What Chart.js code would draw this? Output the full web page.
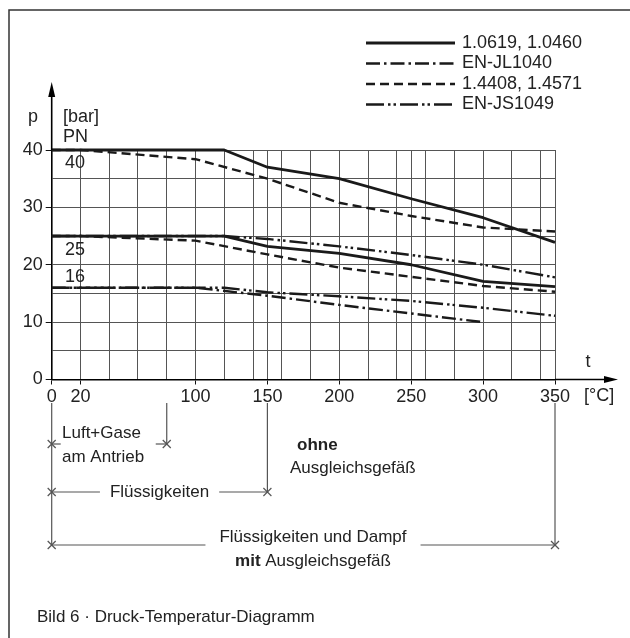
<!DOCTYPE html>
<html><head><meta charset="utf-8">
<script src="https://cdn.jsdelivr.net/npm/chart.js@4.4.1/dist/chart.umd.min.js"></script>
<style>html,body{margin:0;padding:0;background:#fff}#wrap{width:630px;height:638px;position:relative}</style>
</head><body><div id="wrap"><canvas id="c" width="630" height="638"></canvas></div>
<script>
const FONT = '"Liberation Sans", Arial, sans-serif';

// ---- data ----
const seriesNames = ['1.0619, 1.0460', 'EN-JL1040', '1.4408, 1.4571', 'EN-JS1049'];

const tSolid40 = [0, 120, 150, 200, 250, 300, 350];
const pSolid40 = [40, 40, 37, 35, 31.5, 28.2, 23.9];
const tSolid25 = [0, 120, 150, 200, 250, 300, 350];
const pSolid25 = [25, 25, 23.2, 22, 20, 17.1, 16.2];

const tJL16 = [0, 100, 150, 200, 250, 300];
const pJL16 = [16, 16, 14.6, 13, 11.5, 10];

const tDash40 = [0, 20, 100, 150, 200, 250, 300, 350];
const pDash40 = [40, 40, 38.4, 35, 30.8, 28.5, 26.5, 25.8];
const tDash25 = [0, 20, 100, 150, 200, 250, 300, 350];
const pDash25 = [25, 25, 24.2, 21.8, 19.5, 17.9, 16.3, 15.3];

const tJS25 = [0, 120, 150, 200, 250, 300, 350];
const pJS25 = [25, 25, 24.5, 23.2, 21.7, 20, 17.8];
const tJS16 = [0, 120, 150, 200, 250, 300, 350];
const pJS16 = [16, 16, 15.2, 14.5, 13.7, 12.5, 11.1];

const xGridValues = [0, 20, 40, 60, 80, 100, 120, 140, 150, 160, 180, 200, 220, 240, 250, 260, 280, 300, 320, 340, 350];
const xTickLabels = [0, 20, 100, 150, 200, 250, 300, 350];
const yGridValues = [0, 5, 10, 15, 20, 25, 30, 35, 40];
const yTickLabels = [0, 10, 20, 30, 40];
const pnClasses = [40, 25, 16];

const captionText = 'Bild 6 · Druck-Temperatur-Diagramm';

// ---- styles ----
const dashStyles = [[], [14, 4, 2.5, 4], [9, 5], [18, 4, 2.5, 3, 2.5, 4]];
const lineWidths = [2.8, 2.4, 2.4, 2.4];
const INK = '#1a1a1a';

function pts(t, p) { return t.map((v, i) => ({ x: v, y: p[i] })); }
function ds(t, p, s) {
  return { data: pts(t, p), borderColor: INK, borderWidth: lineWidths[s], borderDash: dashStyles[s],
           pointRadius: 0, tension: 0, fill: false, clip: false, borderCapStyle: 'butt', borderJoinStyle: 'round' };
}

const decor = {
  id: 'decor',
  afterDraw(chart) {
    const ctx = chart.ctx, xs = chart.scales.x, ys = chart.scales.y;
    const X = v => xs.getPixelForValue(v), Y = v => ys.getPixelForValue(v);
    ctx.save();
    // frame
    ctx.strokeStyle = '#333'; ctx.lineWidth = 1.5;
    ctx.beginPath(); ctx.moveTo(9, 638); ctx.lineTo(9, 10); ctx.lineTo(630, 10); ctx.stroke();

    // axis extensions + arrows
    ctx.strokeStyle = '#000'; ctx.fillStyle = '#000'; ctx.lineWidth = 1.6;
    ctx.beginPath(); ctx.moveTo(X(350), Y(0)); ctx.lineTo(612, Y(0)); ctx.stroke();
    ctx.beginPath(); ctx.moveTo(618, Y(0)); ctx.lineTo(604, Y(0) - 3.5); ctx.lineTo(604, Y(0) + 3.5); ctx.closePath(); ctx.fill();
    ctx.beginPath(); ctx.moveTo(X(0), Y(40)); ctx.lineTo(X(0), 92); ctx.stroke();
    ctx.beginPath(); ctx.moveTo(X(0), 82); ctx.lineTo(X(0) - 3.5, 97); ctx.lineTo(X(0) + 3.5, 97); ctx.closePath(); ctx.fill();

    // axis texts
    ctx.fillStyle = '#222'; ctx.textBaseline = 'middle';
    ctx.font = '18px ' + FONT;
    ctx.textAlign = 'center';
    ctx.fillText('p', 33, 117);
    ctx.fillText('t', 588, 362);
    ctx.textAlign = 'left';
    ctx.fillText('[bar]', 63, 117);
    ctx.fillText('PN', 63, 137);
    ctx.fillText('[°C]', 584, 396);
    // PN class labels
    const pnOff = [13, 14, -11];
    pnClasses.forEach((v, i) => { ctx.fillText(String(v), 65, Y(v) + pnOff[i]); });

    // legend
    const lx0 = 366, lx1 = 455, ly0 = 43, ldy = 20.5;
    seriesNames.forEach((name, i) => {
      const y = ly0 + i * ldy;
      ctx.save();
      ctx.strokeStyle = INK; ctx.lineWidth = lineWidths[i]; ctx.setLineDash(dashStyles[i]);
      ctx.beginPath(); ctx.moveTo(lx0, y); ctx.lineTo(lx1, y); ctx.stroke();
      ctx.restore();
      ctx.fillStyle = '#222'; ctx.font = '18px ' + FONT; ctx.textAlign = 'left';
      ctx.fillText(name, 462, y);
    });

    // range annotations below the axis
    ctx.strokeStyle = '#555'; ctx.lineWidth = 1.2; ctx.setLineDash([]);
    const line = (x1, y1, x2, y2) => { ctx.beginPath(); ctx.moveTo(x1, y1); ctx.lineTo(x2, y2); ctx.stroke(); };
    const cross = (x, y) => { line(x - 4, y - 4, x + 4, y + 4); line(x - 4, y + 4, x + 4, y - 4); };
    const top = 403;
    line(X(0), top, X(0), 546);
    line(X(80), top, X(80), 444);
    line(X(150), top, X(150), 493);
    line(X(350), top, X(350), 546);

    ctx.font = '17px ' + FONT; ctx.fillStyle = '#222';
    // Luft+Gase
    const yL = 444;
    line(X(0), yL, X(0) + 9, yL); cross(X(0), yL);
    line(X(80) - 11, yL, X(80), yL); cross(X(80), yL);
    ctx.textAlign = 'left';
    ctx.fillText('Luft+Gase', 62, 433);
    ctx.fillText('am Antrieb', 62, 457);

    // Flüssigkeiten
    const yF = 492;
    ctx.textAlign = 'center';
    const cF = (X(0) + X(150)) / 2;
    const wF = ctx.measureText('Flüssigkeiten').width;
    line(X(0), yF, cF - wF / 2 - 10, yF); line(cF + wF / 2 + 10, yF, X(150), yF);
    cross(X(0), yF); cross(X(150), yF);
    ctx.fillText('Flüssigkeiten', cF, yF);

    // ohne Ausgleichsgefäß
    ctx.textAlign = 'left';
    ctx.font = 'bold 17px ' + FONT;
    ctx.fillText('ohne', 297, 445);
    ctx.font = '17px ' + FONT;
    ctx.fillText('Ausgleichsgefäß', 290, 468);

    // Flüssigkeiten und Dampf / mit Ausgleichsgefäß
    const yD = 545, cD = 313;
    const wD = ctx.measureText('Flüssigkeiten und Dampf').width;
    line(X(0), yD, cD - wD / 2 - 14, yD); line(cD + wD / 2 + 14, yD, X(350), yD);
    cross(X(0), yD); cross(X(350), yD);
    ctx.textAlign = 'center';
    ctx.fillText('Flüssigkeiten und Dampf', cD, 537);
    ctx.font = 'bold 17px ' + FONT;
    const wMit = ctx.measureText('mit ').width;
    ctx.font = '17px ' + FONT;
    const wRest = ctx.measureText('Ausgleichsgefäß').width;
    const sx = cD - (wMit + wRest) / 2;
    ctx.textAlign = 'left';
    ctx.font = 'bold 17px ' + FONT; ctx.fillText('mit ', sx, 561);
    ctx.font = '17px ' + FONT; ctx.fillText('Ausgleichsgefäß', sx + wMit, 561);

    // caption
    ctx.fillText(captionText, 37, 617);
    ctx.restore();
  }
};

new Chart(document.getElementById('c'), {
  type: 'line',
  data: {
    datasets: [
      ds(tDash40, pDash40, 2), ds(tDash25, pDash25, 2),
      ds(tJL16, pJL16, 1),
      ds(tJS25, pJS25, 3), ds(tJS16, pJS16, 3),
      ds(tSolid40, pSolid40, 0), ds(tSolid25, pSolid25, 0)
    ]
  },
  options: {
    responsive: false, animation: false, devicePixelRatio: 1,
    layout: { padding: { left: 11.7, right: 75, top: 150, bottom: 228.5 } },
    plugins: { legend: { display: false }, tooltip: { enabled: false } },
    scales: {
      x: {
        type: 'linear', min: 0, max: 350,
        afterBuildTicks: s => { s.ticks = xGridValues.map(v => ({ value: v })); },
        afterFit: s => { s.height = 30; },
        grid: { color: '#555', lineWidth: 1, drawTicks: true, tickLength: 5,
                tickColor: c => (c.tick && xTickLabels.includes(c.tick.value)) ? '#111' : 'rgba(0,0,0,0)' },
        border: { display: true, color: '#000', width: 1.6 },
        ticks: { autoSkip: false, maxRotation: 0, padding: 2, color: '#222', font: { family: FONT, size: 18 },
                 callback: v => xTickLabels.includes(v) ? String(v) : '' }
      },
      y: {
        min: 0, max: 40,
        afterBuildTicks: s => { s.ticks = yGridValues.map(v => ({ value: v })); },
        afterFit: s => { s.width = 40; },
        grid: { color: '#555', lineWidth: 1, drawTicks: true, tickLength: 6,
                tickColor: c => (c.tick && yTickLabels.includes(c.tick.value)) ? '#111' : 'rgba(0,0,0,0)' },
        border: { display: true, color: '#000', width: 1.6 },
        ticks: { autoSkip: false, padding: 3, color: '#222', font: { family: FONT, size: 18 },
                 callback: v => yTickLabels.includes(v) ? String(v) : '' }
      }
    }
  },
  plugins: [decor]
});
</script>
</body></html>
